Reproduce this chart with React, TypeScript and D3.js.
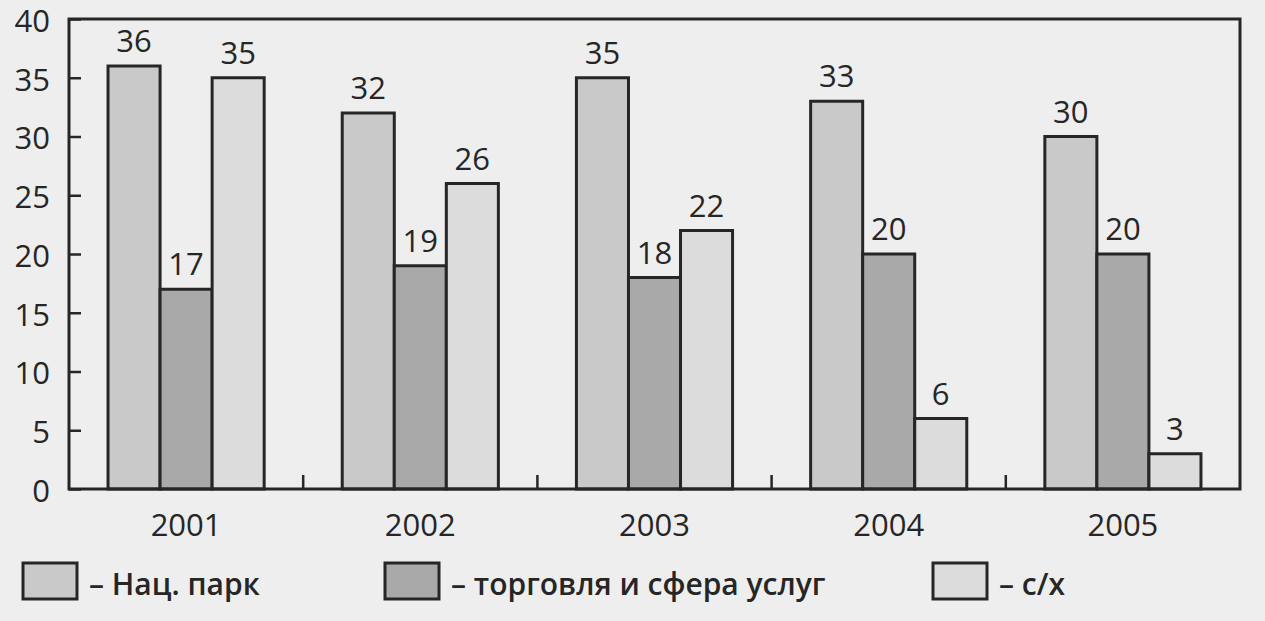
import React, { useEffect, useRef } from 'react';
import * as d3 from 'd3';

const years = ['2001', '2002', '2003', '2004', '2005'];
const natsPark = [36, 32, 35, 33, 30];
const trade = [17, 19, 18, 20, 20];
const agri = [35, 26, 22, 6, 3];
const seriesNames = ['Нац. парк', 'торговля и сфера услуг', 'с/х'];
const yTicks = [0, 5, 10, 15, 20, 25, 30, 35, 40];

const fills = ['#c9c9c9', '#a9a9a9', '#dcdcdc'];
const ink = '#262626';
const font = '"Open Sans", "DejaVu Sans", sans-serif';

const App = () => {
  const ref = useRef<SVGSVGElement>(null);

  useEffect(() => {
    const width = 1265;
    const height = 621;
    const left = 69, right = 1240, top = 19, bottom = 489;

    const svg = d3.select(ref.current)
      .attr('width', width)
      .attr('height', height)
      .attr('viewBox', [0, 0, width, height] as any);
    svg.selectAll('*').remove();

    svg.append('rect').attr('width', width).attr('height', height).attr('fill', '#eeeeee');

    const series = [natsPark, trade, agri];

    const x0 = d3.scaleBand().domain(years).range([left, right]).paddingInner(1 / 3).paddingOuter(1 / 6);
    const x1 = d3.scaleBand().domain(['0', '1', '2']).range([0, x0.bandwidth()]);
    const y = d3.scaleLinear().domain([0, 40]).range([bottom, top]);

    // bars
    const groups = svg.append('g')
      .selectAll('g')
      .data(years)
      .join('g')
      .attr('transform', d => `translate(${x0(d)},0)`);

    groups.selectAll('rect')
      .data((d, i) => series.map((s, k) => ({ k, v: s[i] })))
      .join('rect')
      .attr('x', d => x1(String(d.k))!)
      .attr('y', d => y(d.v))
      .attr('width', x1.bandwidth())
      .attr('height', d => y(0) - y(d.v))
      .attr('fill', d => fills[d.k])
      .attr('stroke', ink)
      .attr('stroke-width', 3);

    groups.selectAll('text')
      .data((d, i) => series.map((s, k) => ({ k, v: s[i] })))
      .join('text')
      .attr('x', d => x1(String(d.k))! + x1.bandwidth() / 2)
      .attr('y', d => y(d.v) - 14)
      .attr('text-anchor', 'middle')
      .attr('font-family', font)
      .attr('font-size', 31)
      .attr('font-weight', 500)
      .attr('fill', ink)
      .text(d => d.v);

    // frame
    svg.append('rect')
      .attr('x', left).attr('y', top)
      .attr('width', right - left).attr('height', bottom - top)
      .attr('fill', 'none').attr('stroke', ink).attr('stroke-width', 3);

    // y axis (ticks inward)
    const yAxis = svg.append('g')
      .attr('transform', `translate(${left},0)`)
      .call(d3.axisLeft(y).tickValues(yTicks).tickSize(-12).tickPadding(19));
    yAxis.select('.domain').remove();
    yAxis.selectAll('line').attr('stroke', ink).attr('stroke-width', 2.5);
    yAxis.selectAll('text')
      .attr('font-family', font)
      .attr('font-size', 31)
      .attr('font-weight', 500)
      .attr('fill', ink)
      .attr('dy', '0.4em');

    // separators between year groups
    const step = x0.step();
    svg.append('g')
      .selectAll('line')
      .data(years.slice(0, -1))
      .join('line')
      .attr('x1', d => x0(d)! + x0.bandwidth() + (step - x0.bandwidth()) / 2)
      .attr('x2', d => x0(d)! + x0.bandwidth() + (step - x0.bandwidth()) / 2)
      .attr('y1', y(0))
      .attr('y2', y(0) - 14)
      .attr('stroke', ink)
      .attr('stroke-width', 2.5);

    // year labels
    svg.append('g')
      .selectAll('text')
      .data(years)
      .join('text')
      .attr('x', d => x0(d)! + x0.bandwidth() / 2)
      .attr('y', 536)
      .attr('text-anchor', 'middle')
      .attr('font-family', font)
      .attr('font-size', 31)
      .attr('font-weight', 500)
      .attr('fill', ink)
      .text(d => d);

    // legend
    const legendX = [23, 385, 933];
    const legend = svg.append('g')
      .selectAll('g')
      .data(seriesNames)
      .join('g')
      .attr('transform', (d, i) => `translate(${legendX[i]},563)`);
    legend.append('rect')
      .attr('width', 54).attr('height', 36)
      .attr('fill', (d, i) => fills[i])
      .attr('stroke', ink).attr('stroke-width', 3);
    legend.append('text')
      .attr('x', 66)
      .attr('y', 32)
      .attr('font-family', font)
      .attr('font-size', 30)
      .attr('font-weight', 600)
      .attr('fill', ink)
      .text(d => `– ${d}`);
  }, []);

  return <svg ref={ref} style={{ position: 'fixed', top: 0, left: 0, display: 'block' }}></svg>;
};

export default App;
